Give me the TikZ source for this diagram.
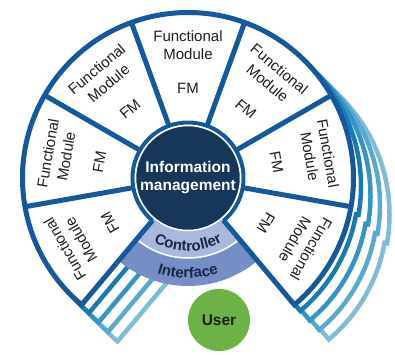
\documentclass[tikz,border=0pt]{standalone}
\usepackage{fontspec}
\setmainfont{Liberation Sans}
\usetikzlibrary{decorations.text}

\definecolor{wheelblue}{RGB}{22,88,158}
\definecolor{corenavy}{RGB}{23,55,90}
\definecolor{ctrlfill}{RGB}{168,184,222}
\definecolor{ifacefill}{RGB}{118,142,198}
\definecolor{usergreen}{RGB}{108,178,70}
\definecolor{echoA}{RGB}{25,122,182}
\definecolor{echoB}{RGB}{52,148,198}
\definecolor{echoC}{RGB}{90,170,208}
\definecolor{echoD}{RGB}{128,188,212}
\definecolor{labeltext}{RGB}{30,30,30}
\definecolor{bandtext}{RGB}{25,40,70}

\begin{document}
\begin{tikzpicture}[x=1pt,y=1pt,
  fmlabel/.style={font=\fontsize{15}{18.5}\selectfont, text=labeltext, align=center, inner sep=0pt},
  wheelline/.style={draw=wheelblue, line width=5pt, line join=miter},
  echoline/.style={fill=white, line width=4.5pt, line join=miter},
  bandlabel/.style={decorate, decoration={text along path, text align=center,
      text={|\color{bandtext}\bfseries\fontsize{15}{17}\selectfont|#1}}}
]
\useasboundingbox (0,0) rectangle (395,-354);

\begin{scope}[shift={(188,-178)}]
  % stacked outlines trailing behind the wheel
  \foreach \k/\col in {4/echoD,3/echoC,2/echoB,1/echoA} {
    \pgfmathsetmacro\dx{9.5*\k-2}
    \pgfmathsetmacro\dy{9.5*\k-1.5}
    \begin{scope}[shift={(\dx,-\dy)}]
      \filldraw[echoline, draw=\col]
        (230:55pt) -- (230:165.5pt)
        arc[start angle=230, end angle=-10, radius=165.5pt]
        -- (-10:163pt)
        arc[start angle=-10, end angle=-50, radius=163pt]
        -- (-50:55pt)
        arc[start angle=-50, end angle=230, radius=55pt] -- cycle;
    \end{scope}
  }

  % controller and interface bands
  \fill[ifacefill] (230:80pt) arc[start angle=230, end angle=310, radius=80pt]
    -- (310:108pt) arc[start angle=310, end angle=230, radius=108pt] -- cycle;
  \fill[ctrlfill] (230:52pt) arc[start angle=230, end angle=310, radius=52pt]
    -- (310:80pt) arc[start angle=310, end angle=230, radius=80pt] -- cycle;
  \draw[white, line width=1.5pt] (230:80pt) arc[start angle=230, end angle=310, radius=80pt];

  % wheel of functional modules
  \fill[white] (230:55pt) arc[start angle=230, end angle=-50, radius=55pt]
    -- (-50:165.5pt) arc[start angle=-50, end angle=230, radius=165.5pt] -- cycle;
  \draw[wheelblue, line width=4pt] (230:55.5pt) arc[start angle=230, end angle=-50, radius=55.5pt];
  \draw[wheelline] (230:55pt) -- (230:165.5pt)
    arc[start angle=230, end angle=-50, radius=165.5pt] -- (-50:55pt);
  \foreach \b in {-10,30,70,110,150,190}
    \draw[wheelline] (\b:55pt) -- (\b:165.5pt);

  \foreach \a [count=\i] in {-30,10,50,90,130,170,210} {
    \node[fmlabel, rotate=\a-90] (fmname\i) at (\a:133pt) {Functional\\Module};
    \node[fmlabel, rotate=\a-90] (fmtag\i) at (\a:90pt) {FM};
  }

  % central information management disk
  \node[circle, fill=corenavy, draw=white, line width=1.5pt, minimum size=105pt,
        inner sep=0pt, text=white, align=center,
        font=\bfseries\fontsize{15.5}{18}\selectfont] (core) at (0,0)
        {Information\\management};

  \path[bandlabel=Controller] (236:73pt) arc[start angle=236, end angle=304, radius=73pt];
  \path[bandlabel=Interface] (236:100pt) arc[start angle=236, end angle=304, radius=100pt];

  % user
  \node[circle, fill=usergreen, minimum size=62pt, inner sep=0pt, text=labeltext,
        font=\bfseries\fontsize{15.5}{18}\selectfont] (user) at (31,-142) {User};
\end{scope}
\end{tikzpicture}
\end{document}
